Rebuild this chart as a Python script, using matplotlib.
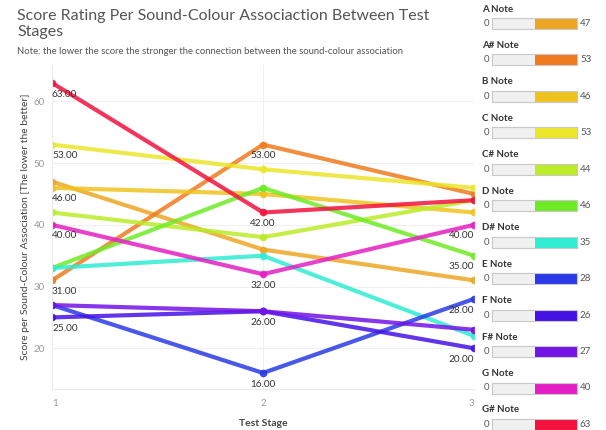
import matplotlib
matplotlib.use('Agg')
import matplotlib.pyplot as plt

plt.rcParams['font.family'] = ['Lato', 'DejaVu Sans']

stages = [1, 2, 3]
notes = ['A Note', 'A# Note', 'B Note', 'C Note', 'C# Note', 'D Note',
         'D# Note', 'E Note', 'F Note', 'F# Note', 'G Note', 'G# Note']
a = [47, 36, 31]
a_sharp = [31, 53, 45]
b = [46, 45, 42]
c = [53, 49, 46]
c_sharp = [42, 38, 44]
d = [33, 46, 35]
d_sharp = [33, 35, 22]
e = [27, 16, 28]
f = [25, 26, 20]
f_sharp = [27, 26, 23]
g = [40, 32, 40]
g_sharp = [63, 42, 44]
scores = [a, a_sharp, b, c, c_sharp, d, d_sharp, e, f, f_sharp, g, g_sharp]

colors = ['#EEA624', '#F07A1E', '#EFC31F', '#ECE62A', '#BCEB28', '#6EEB26',
          '#30ECD2', '#2A3BE6', '#4512E6', '#7214E6', '#E31FC3', '#F3123E']

# which points carry a value label, per stage
labelled = {1: ['G# Note', 'C Note', 'B Note', 'G Note', 'A# Note', 'F Note'],
            2: ['A# Note', 'G# Note', 'G Note', 'F Note', 'E Note'],
            3: ['G Note', 'D Note', 'E Note', 'F Note']}

W, H = 606, 430
fig = plt.figure(figsize=(W / 100, H / 100), dpi=100)


def px(x0, y0, x1, y1):
    return [x0 / W, 1 - y1 / H, (x1 - x0) / W, (y1 - y0) / H]


ax = fig.add_axes(px(52, 65, 474, 389))
for name, vals, col in zip(notes, scores, colors):
    ax.plot(stages, vals, color=col, lw=3, alpha=0.85, marker='o', ms=4.5,
            solid_capstyle='butt')

for st, names in labelled.items():
    ha = {1: 'left', 2: 'center', 3: 'right'}[st]
    for name in names:
        v = scores[notes.index(name)][st - 1]
        ax.annotate(f'{v:.2f}', (st, v), xytext=(0, -8), textcoords='offset points',
                    ha=ha, va='center', fontsize=7.2, color='#333333',
                    annotation_clip=False)

ax.set_xlim(1, 3)
ax.set_ylim(13.4, 65.9)
ax.set_xticks(stages)
ax.set_yticks([20, 30, 40, 50, 60])
ax.set_xticklabels(['1', '2', '3'])
for lab, al in zip(ax.get_xticklabels(), ['left', 'center', 'right']):
    lab.set_ha(al)
ax.tick_params(length=0, labelsize=7, colors='#999999', pad=7)
ax.tick_params(axis='y', pad=5)
ax.grid(True, color='#f0f0f0', lw=0.8)
ax.set_axisbelow(True)
for s in ['top', 'right']:
    ax.spines[s].set_visible(False)
ax.spines['left'].set_color('#ececec')
ax.spines['bottom'].set_color('#ececec')
ax.set_xlabel('Test Stage', fontsize=7.5, color='#444444', labelpad=8,
              fontweight='bold')
ax.set_ylabel('Score per Sound-Colour Association [The lower the better]',
              fontsize=7.5, color='#444444', labelpad=3)

fig.text(17 / W, 1 - 24 / H,
         'Score Rating Per Sound-Colour Associaction Between Test\nStages',
         fontsize=11.5, color='#555555', va='center', linespacing=1.2)
fig.text(17 / W, 1 - 51 / H,
         'Note: the lower the score the stronger the connection between the sound-colour association',
         fontsize=6.8, color='#555555', va='center')

# colour legend strips
step = 36.45
for i, (name, vals, col) in enumerate(zip(notes, scores, colors)):
    top = i * step
    vmax = max(vals)
    fig.text(482 / W, 1 - (top + 9) / H, name, fontsize=7, color='#333333',
             va='center', fontweight='bold')
    lax = fig.add_axes(px(492, top + 18, 577, top + 29))
    lax.barh(0, vmax, height=1, color='#f0f0f0', edgecolor='none')
    lax.barh(0, vmax / 2, left=vmax / 2, height=1, color=col, edgecolor='none')
    lax.set_xlim(0, vmax)
    lax.set_ylim(-0.5, 0.5)
    lax.set_xticks([])
    lax.set_yticks([])
    for s in lax.spines.values():
        s.set_color('#c8c8c8')
        s.set_linewidth(0.8)
    fig.text(487 / W, 1 - (top + 23.5) / H, '0', fontsize=7, color='#555555',
             va='center', ha='center')
    fig.text(580 / W, 1 - (top + 23.5) / H, str(vmax), fontsize=7,
             color='#555555', va='center', ha='left')

fig.savefig('out.png', dpi=100)
